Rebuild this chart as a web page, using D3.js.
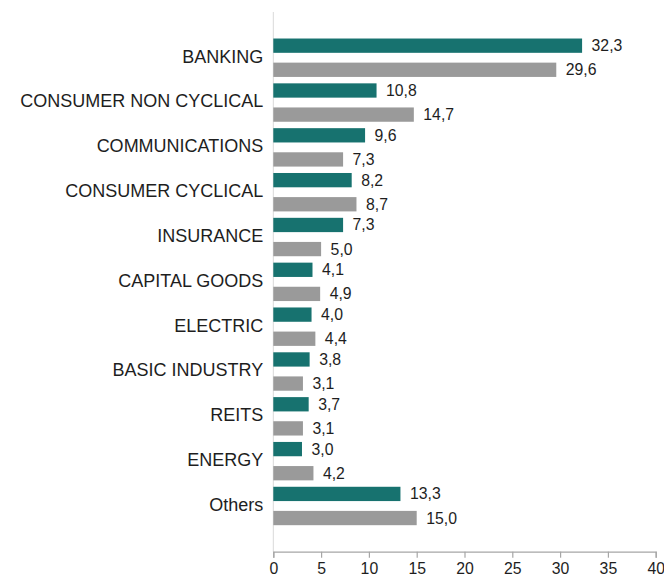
<!DOCTYPE html>
<html>
<head>
<meta charset="utf-8">
<script src="https://cdn.jsdelivr.net/npm/d3@7"></script>
<style>
  html, body { margin: 0; padding: 0; background: #fff; }
  svg { display: block; font-family: "Liberation Sans", Arial, sans-serif; }
</style>
</head>
<body>
<svg id="chart" width="664" height="577"></svg>
<script>
// Sector weights, two series per sector
const categories = [
  "BANKING", "CONSUMER NON CYCLICAL", "COMMUNICATIONS", "CONSUMER CYCLICAL",
  "INSURANCE", "CAPITAL GOODS", "ELECTRIC", "BASIC INDUSTRY", "REITS",
  "ENERGY", "Others"
];
const seriesA = [32.3, 10.8, 9.6, 8.2, 7.3, 4.1, 4.0, 3.8, 3.7, 3.0, 13.3];
const seriesB = [29.6, 14.7, 7.3, 8.7, 5.0, 4.9, 4.4, 3.1, 3.1, 4.2, 15.0];
const seriesKeys = ["a", "b"];
const xTicks = [0, 5, 10, 15, 20, 25, 30, 35, 40];

const colors = { a: "#17726f", b: "#9a9a9a" };
const textColor = "#1e1e1e";

const rows = categories.map((c, i) => ({ cat: c, a: seriesA[i], b: seriesB[i] }));

const svg = d3.select("#chart");
const plot = { left: 273.3, right: 655.7, top: 12, bottom: 551.7 };

const x = d3.scaleLinear().domain([0, 40]).range([plot.left, plot.right]);
const y0 = d3.scaleBand().domain(categories).range([plot.top, plot.bottom])
  .paddingInner(0).paddingOuter(0.52);
const y1 = d3.scaleBand().domain(seriesKeys).range([0, y0.bandwidth()])
  .paddingInner(0.407).paddingOuter(0.133);

const fmt = d3.formatLocale({ decimal: ",", thousands: ".", grouping: [3], currency: ["", ""] }).format(".1f");

// Vertical category axis line
svg.append("line")
  .attr("x1", x(0)).attr("x2", x(0))
  .attr("y1", plot.top).attr("y2", plot.bottom)
  .attr("stroke", "#d9d9d9").attr("stroke-width", 1);

// Bars
const groups = svg.append("g").selectAll("g")
  .data(rows).join("g")
  .attr("transform", d => `translate(0,${y0(d.cat)})`);

groups.selectAll("rect")
  .data(d => seriesKeys.map(k => ({ key: k, value: d[k] })))
  .join("rect")
  .attr("x", x(0))
  .attr("y", d => y1(d.key))
  .attr("width", d => x(d.value) - x(0))
  .attr("height", y1.bandwidth())
  .attr("fill", d => colors[d.key]);

// Value labels
groups.selectAll("text")
  .data(d => seriesKeys.map(k => ({ key: k, value: d[k] })))
  .join("text")
  .attr("x", d => x(d.value) + 9.5)
  .attr("y", d => y1(d.key) + y1.bandwidth() / 2)
  .attr("dy", "0.35em")
  .attr("font-size", "15.8px")
  .attr("fill", textColor)
  .text(d => fmt(d.value));

// Category labels
svg.append("g").selectAll("text")
  .data(categories).join("text")
  .attr("x", x(0) - 10)
  .attr("y", d => y0(d) + y0.bandwidth() / 2)
  .attr("dy", "0.27em")
  .attr("text-anchor", "end")
  .attr("font-size", "18px")
  .attr("fill", textColor)
  .text(d => d);

// Horizontal value axis
const xAxis = svg.append("g")
  .attr("transform", `translate(0,${plot.bottom})`)
  .call(d3.axisBottom(x).tickValues(xTicks).tickSize(6).tickPadding(5).tickFormat(d3.format("d")));
xAxis.select(".domain").attr("stroke", "#a6a6a6").attr("stroke-width", 1.2);
xAxis.selectAll(".tick line").attr("stroke", "#a6a6a6").attr("stroke-width", 1.2);
xAxis.selectAll(".tick text")
  .attr("font-family", "Liberation Sans, Arial, sans-serif")
  .attr("font-size", "15.8px")
  .attr("fill", textColor);
</script>
</body>
</html>
